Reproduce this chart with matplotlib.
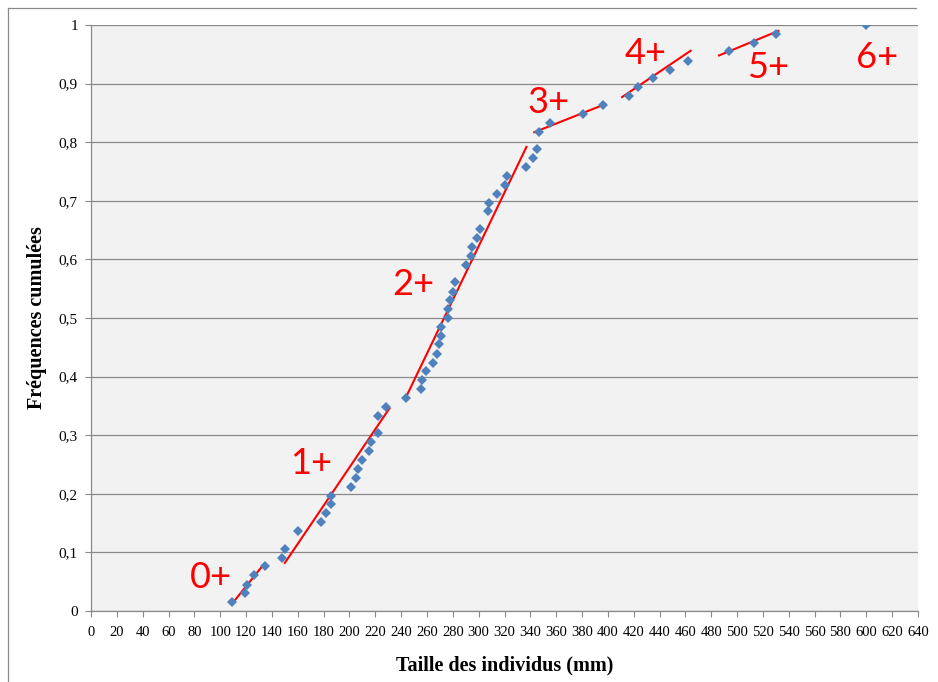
import numpy as np
from matplotlib import pyplot as plt
from matplotlib.lines import Line2D

# cumulative frequency of fish lengths (mm)
taille = [109, 119, 121, 126, 135,
          148, 150, 160, 178, 182, 186, 186, 201, 205, 207, 210, 215, 217, 222, 222, 228,
          244, 255, 256, 259, 265, 268, 269, 271, 271, 276, 276, 278, 280, 282, 290, 294,
          295, 299, 301, 307, 308, 314, 320, 322, 337, 342, 345,
          347, 355, 381, 396, 416, 423, 435, 448, 462, 494, 513, 530, 600]
freq = [0.015, 0.030, 0.045, 0.061, 0.076,
        0.091, 0.106, 0.136, 0.152, 0.167, 0.182, 0.197, 0.212, 0.227, 0.242, 0.258,
        0.273, 0.288, 0.303, 0.333, 0.348,
        0.364, 0.379, 0.394, 0.409, 0.424, 0.439, 0.455, 0.470, 0.485, 0.500, 0.515,
        0.530, 0.545, 0.561, 0.591, 0.606, 0.621, 0.636, 0.652, 0.682, 0.697, 0.712,
        0.727, 0.742, 0.758, 0.773, 0.788,
        0.818, 0.833, 0.848, 0.864, 0.879, 0.894, 0.909, 0.924, 0.939, 0.955, 0.970,
        0.985, 1.0]

# red fitted segments for each age class
seg_x = [(109, 132), (150, 231), (244, 337), (343, 398), (411, 464), (486, 532)]
seg_y = [(0.012, 0.075), (0.082, 0.346), (0.366, 0.792), (0.817, 0.865), (0.877, 0.956), (0.948, 0.990)]

ages = ["0+", "1+", "2+", "3+", "4+", "5+", "6+"]
age_x = [93, 170, 249, 354, 429, 524, 608]
age_y = [0.058, 0.252, 0.558, 0.868, 0.952, 0.928, 0.945]

fig = plt.figure(figsize=(9.38, 6.82), dpi=100)
ax = fig.add_axes([91 / 938, 1 - 611 / 682, 827 / 938, 586 / 682])
ax.set_facecolor("#f2f2f2")

for xs, ys in zip(seg_x, seg_y):
    ax.plot(xs, ys, color="#ff0000", lw=1.5, zorder=3)
ax.plot(taille, freq, ls="none", marker="D", ms=5, mew=0, color="#4f81bd", zorder=4)

for lab, x, y in zip(ages, age_x, age_y):
    ax.text(x, y, lab, color="#ff0000", fontsize=26, family="Lato", ha="center", va="center", zorder=5)

ax.set_xlim(0, 640)
ax.set_ylim(0, 1)
xt = np.arange(0, 641, 20)
ax.set_xticks(xt)
ax.set_xticklabels([str(v) for v in xt], family="Liberation Serif", fontsize=10.5)
yt = np.round(np.arange(0, 1.01, 0.1), 1)
ax.set_yticks(yt)
ax.set_yticklabels([("%g" % v).replace(".", ",") for v in yt], family="Liberation Serif", fontsize=11)
ax.tick_params(axis="both", direction="out", length=4.5, width=0.8, color="#898989")
ax.tick_params(axis="x", pad=6)
ax.tick_params(axis="y", pad=5)

ax.yaxis.grid(True, color="#898989", lw=0.9)
ax.set_axisbelow(True)
for s in ["top", "right"]:
    ax.spines[s].set_visible(False)
for s in ["left", "bottom"]:
    ax.spines[s].set_color("#898989")
    ax.spines[s].set_linewidth(0.9)

ax.set_xlabel("Taille des individus (mm)", family="Liberation Serif", fontweight="bold", fontsize=14.5)
ax.set_ylabel("Fréquences cumulées", family="Liberation Serif", fontweight="bold", fontsize=14.5)
ax.xaxis.set_label_coords(0.50, -0.076)
ax.yaxis.set_label_coords(-0.053, 0.5)

# outer chart frame
fig.add_artist(Line2D([8 / 938, 916 / 938], [1 - 7.5 / 682] * 2, color="#898989", lw=0.9))
fig.add_artist(Line2D([8 / 938] * 2, [0, 1 - 7.5 / 682], color="#898989", lw=0.9))

fig.savefig("out.png", dpi=100)
